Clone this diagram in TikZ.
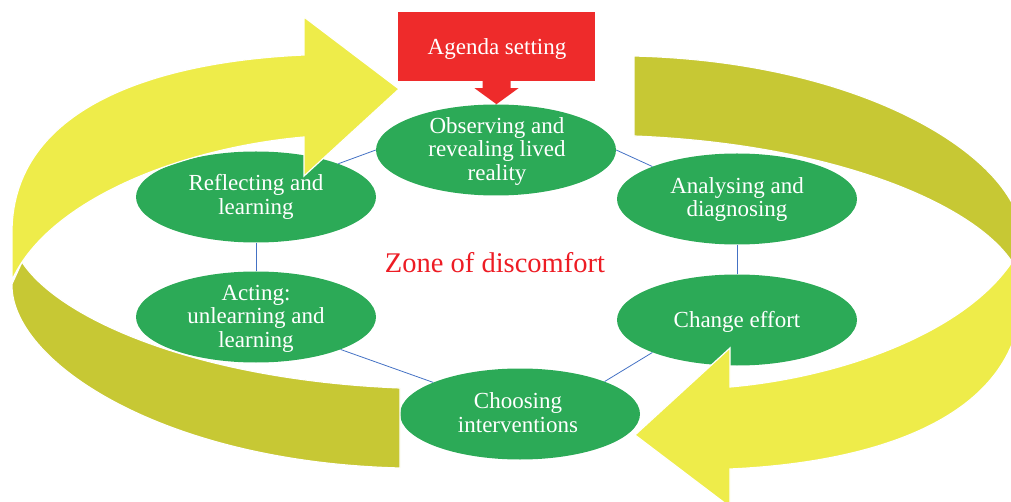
\documentclass[tikz,border=0pt]{standalone}
\usepackage{fontspec}
\setmainfont{Liberation Serif}
\usetikzlibrary{shapes.geometric}
\definecolor{arrowyellow}{RGB}{238,236,74}
\definecolor{arrowolive}{RGB}{199,200,52}
\definecolor{stagegreen}{RGB}{44,170,87}
\definecolor{agendared}{RGB}{238,43,43}
\definecolor{zonered}{RGB}{237,28,36}
\definecolor{linkblue}{RGB}{68,114,196}
\begin{document}
\begin{tikzpicture}[x=1pt,y=-1pt,
  stage/.style={ellipse, fill=stagegreen, minimum width=240pt, minimum height=91pt, inner sep=0pt},
  stagetext/.style={text=white, align=center, inner sep=0pt, font=\fontsize{23}{23.5}\selectfont},
  link/.style={draw=linkblue, line width=0.8pt},
  ribbonfront/.style={fill=arrowyellow, draw=white, line width=1.2pt},
  ribbonback/.style={fill=arrowolive, draw=white, line width=1.2pt},
  agendabox/.style={rectangle, fill=agendared, minimum width=197pt, minimum height=69pt, inner sep=0pt},
  zonetext/.style={text=zonered, inner sep=0pt, font=\fontsize{28.5}{30}\selectfont}]
\useasboundingbox (0,0) rectangle (1011,502);
\clip (0,0) rectangle (1011,502);

% stages
\node[stage] (obs)  at (496,150) {};
\node[stage] (refl) at (256,197) {};
\node[stage] (ana)  at (737,199) {};
\node[stage] (act)  at (256,317) {};
\node[stage] (chg)  at (737,320) {};
\node[stage] (cho)  at (520,414) {};

% links
\draw[link] (refl.22) -- (obs.180);
\draw[link] (obs.0) -- (ana.159);
\draw[link] (refl.-90) -- (act.90);
\draw[link] (ana.-90) -- (chg.90);
\draw[link] (act.-21) -- (cho.160);
\draw[link] (cho.21) -- (chg.-159);

% curved ribbon arrows
\begin{scope}
  \path[ribbonback] (22,262) -- (12,284) .. controls (10,360) and (160,462) .. (400,468)
      -- (400,388) .. controls (200,380) and (60,320) .. (22,262) -- cycle;
  \path[ribbonfront] (12,280) -- (12,230) .. controls (14,110) and (150,62) .. (304,55)
      -- (304,17) -- (399,89) -- (304,176) -- (304,137)
      .. controls (180,148) and (50,200) .. (13,278) -- cycle;
\end{scope}
\begin{scope}[rotate around={180:(517,262)}]
  \path[ribbonback] (22,262) -- (12,284) .. controls (10,360) and (160,462) .. (400,468)
      -- (400,388) .. controls (200,380) and (60,320) .. (22,262) -- cycle;
  \path[ribbonfront] (12,280) -- (12,230) .. controls (14,110) and (150,62) .. (304,55)
      -- (304,17) -- (399,89) -- (304,176) -- (304,137)
      .. controls (180,148) and (50,200) .. (13,278) -- cycle;
\end{scope}

% agenda setting
\node[agendabox] (agenda) at (496.5,46.5) {};
\fill[agendared, shift={(agenda.south)}] (-14,0) -- (-14,7) -- (-22,7) -- (0,23) -- (22,7) -- (14,7) -- (14,0) -- cycle;
\node[stagetext] (agendat) at (497,48.6) {Agenda setting};

% stage texts
\node[stagetext] (obst)  at (497,151.5) {Observing and\\revealing lived\\reality};
\node[stagetext] (reflt) at (256,196.7) {Reflecting and\\learning};
\node[stagetext] (anat)  at (737,199.7) {Analysing and\\diagnosing};
\node[stagetext] (actt)  at (256,318.5) {Acting:\\unlearning and\\learning};
\node[stagetext] (chgt)  at (737,322) {Change effort};
\node[stagetext] (chot)  at (518,412.5) {Choosing\\interventions};

\node[zonetext] (zone) at (495,263) {Zone of discomfort};
\end{tikzpicture}
\end{document}
